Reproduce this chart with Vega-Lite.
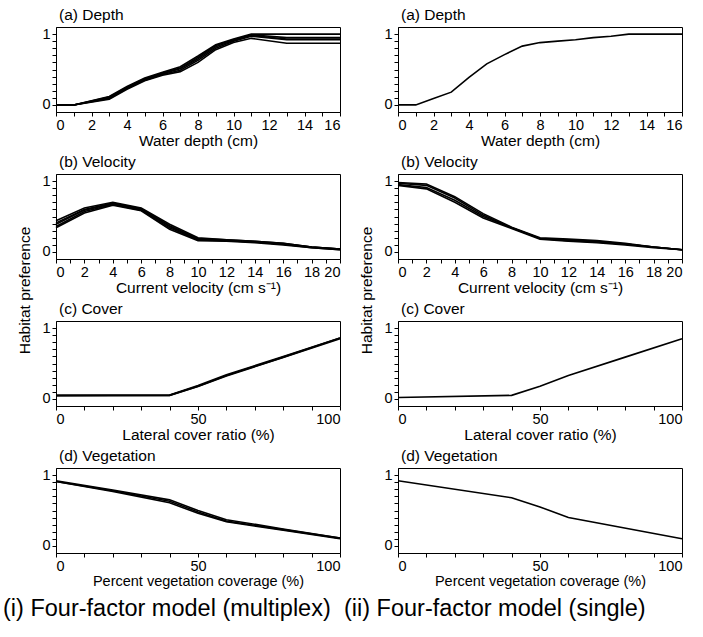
{
"$schema": "https://vega.github.io/schema/vega-lite/v6.json",
"padding": {"left": 3, "top": 7, "right": 5, "bottom": 5},
"background": "white",
"config": {
 "font": "Liberation Sans",
 "view": {"stroke": "black", "strokeWidth": 1},
 "axis": {"grid": false, "domainColor": "black", "tickColor": "black", "labelColor": "black", "titleColor": "black", "labelFont": "Liberation Sans", "titleFont": "Liberation Sans", "labelFontSize": 14.5, "titleFontSize": 15.5, "titleFontWeight": "normal", "tickSize": 4, "labelPadding": 2, "titlePadding": 2, "domainWidth": 1, "tickWidth": 1},
 "title": {"font": "Liberation Sans", "fontWeight": "normal", "fontSize": 15.5, "anchor": "start", "frame": "group", "color": "black", "offset": 3, "dx": 3},
 "line": {"color": "black", "strokeWidth": 1.6}
},
"datasets": {
 "depth_multi": [
  {"run":1,"x":0,"y":0},{"run":1,"x":1,"y":0},{"run":1,"x":3,"y":0.12},{"run":1,"x":4,"y":0.26},{"run":1,"x":5,"y":0.38},{"run":1,"x":6,"y":0.46},{"run":1,"x":7,"y":0.54},{"run":1,"x":8,"y":0.69},{"run":1,"x":9,"y":0.85},{"run":1,"x":10,"y":0.93},{"run":1,"x":11,"y":1.0},{"run":1,"x":13,"y":1.0},{"run":1,"x":16,"y":1.0},
  {"run":2,"x":0,"y":0},{"run":2,"x":1,"y":0},{"run":2,"x":3,"y":0.11},{"run":2,"x":4,"y":0.25},{"run":2,"x":5,"y":0.37},{"run":2,"x":6,"y":0.45},{"run":2,"x":7,"y":0.52},{"run":2,"x":8,"y":0.67},{"run":2,"x":9,"y":0.84},{"run":2,"x":10,"y":0.92},{"run":2,"x":11,"y":0.99},{"run":2,"x":13,"y":0.95},{"run":2,"x":16,"y":0.95},
  {"run":3,"x":0,"y":0},{"run":3,"x":1,"y":0},{"run":3,"x":3,"y":0.10},{"run":3,"x":4,"y":0.24},{"run":3,"x":5,"y":0.36},{"run":3,"x":6,"y":0.44},{"run":3,"x":7,"y":0.51},{"run":3,"x":8,"y":0.65},{"run":3,"x":9,"y":0.82},{"run":3,"x":10,"y":0.91},{"run":3,"x":11,"y":0.98},{"run":3,"x":13,"y":0.93},{"run":3,"x":16,"y":0.93},
  {"run":4,"x":0,"y":0},{"run":4,"x":1,"y":0},{"run":4,"x":3,"y":0.09},{"run":4,"x":4,"y":0.23},{"run":4,"x":5,"y":0.35},{"run":4,"x":6,"y":0.43},{"run":4,"x":7,"y":0.49},{"run":4,"x":8,"y":0.63},{"run":4,"x":9,"y":0.80},{"run":4,"x":10,"y":0.90},{"run":4,"x":11,"y":0.97},{"run":4,"x":13,"y":0.92},{"run":4,"x":16,"y":0.92},
  {"run":5,"x":0,"y":0},{"run":5,"x":1,"y":0},{"run":5,"x":3,"y":0.08},{"run":5,"x":4,"y":0.22},{"run":5,"x":5,"y":0.34},{"run":5,"x":6,"y":0.42},{"run":5,"x":7,"y":0.47},{"run":5,"x":8,"y":0.60},{"run":5,"x":9,"y":0.78},{"run":5,"x":10,"y":0.88},{"run":5,"x":11,"y":0.94},{"run":5,"x":13,"y":0.87},{"run":5,"x":16,"y":0.87}
 ],
 "depth_single": [
  {"run":1,"x":0,"y":0},{"run":1,"x":1,"y":0},{"run":1,"x":2,"y":0.09},{"run":1,"x":3,"y":0.18},{"run":1,"x":4,"y":0.39},{"run":1,"x":5,"y":0.58},{"run":1,"x":6,"y":0.71},{"run":1,"x":7,"y":0.83},{"run":1,"x":8,"y":0.88},{"run":1,"x":9,"y":0.90},{"run":1,"x":10,"y":0.92},{"run":1,"x":11,"y":0.95},{"run":1,"x":12,"y":0.97},{"run":1,"x":13,"y":1.0},{"run":1,"x":16,"y":1.0}
 ],
 "vel_multi": [
  {"run":1,"x":0,"y":0.44},{"run":1,"x":2,"y":0.62},{"run":1,"x":4,"y":0.70},{"run":1,"x":6,"y":0.62},{"run":1,"x":8,"y":0.39},{"run":1,"x":10,"y":0.20},{"run":1,"x":12,"y":0.17},{"run":1,"x":14,"y":0.15},{"run":1,"x":16,"y":0.12},{"run":1,"x":18,"y":0.07},{"run":1,"x":20,"y":0.04},
  {"run":2,"x":0,"y":0.41},{"run":2,"x":2,"y":0.60},{"run":2,"x":4,"y":0.69},{"run":2,"x":6,"y":0.61},{"run":2,"x":8,"y":0.37},{"run":2,"x":10,"y":0.19},{"run":2,"x":12,"y":0.17},{"run":2,"x":14,"y":0.15},{"run":2,"x":16,"y":0.12},{"run":2,"x":18,"y":0.07},{"run":2,"x":20,"y":0.04},
  {"run":3,"x":0,"y":0.39},{"run":3,"x":2,"y":0.59},{"run":3,"x":4,"y":0.68},{"run":3,"x":6,"y":0.60},{"run":3,"x":8,"y":0.36},{"run":3,"x":10,"y":0.18},{"run":3,"x":12,"y":0.16},{"run":3,"x":14,"y":0.14},{"run":3,"x":16,"y":0.11},{"run":3,"x":18,"y":0.07},{"run":3,"x":20,"y":0.04},
  {"run":4,"x":0,"y":0.36},{"run":4,"x":2,"y":0.57},{"run":4,"x":4,"y":0.67},{"run":4,"x":6,"y":0.59},{"run":4,"x":8,"y":0.34},{"run":4,"x":10,"y":0.17},{"run":4,"x":12,"y":0.16},{"run":4,"x":14,"y":0.14},{"run":4,"x":16,"y":0.11},{"run":4,"x":18,"y":0.06},{"run":4,"x":20,"y":0.03},
  {"run":5,"x":0,"y":0.34},{"run":5,"x":2,"y":0.55},{"run":5,"x":4,"y":0.66},{"run":5,"x":6,"y":0.58},{"run":5,"x":8,"y":0.32},{"run":5,"x":10,"y":0.16},{"run":5,"x":12,"y":0.15},{"run":5,"x":14,"y":0.13},{"run":5,"x":16,"y":0.10},{"run":5,"x":18,"y":0.06},{"run":5,"x":20,"y":0.03}
 ],
 "vel_single": [
  {"run":1,"x":0,"y":0.98},{"run":1,"x":2,"y":0.96},{"run":1,"x":4,"y":0.78},{"run":1,"x":6,"y":0.54},{"run":1,"x":8,"y":0.35},{"run":1,"x":10,"y":0.20},{"run":1,"x":12,"y":0.18},{"run":1,"x":14,"y":0.16},{"run":1,"x":16,"y":0.12},{"run":1,"x":18,"y":0.07},{"run":1,"x":20,"y":0.03},
  {"run":2,"x":0,"y":0.97},{"run":2,"x":2,"y":0.94},{"run":2,"x":4,"y":0.76},{"run":2,"x":6,"y":0.52},{"run":2,"x":8,"y":0.34},{"run":2,"x":10,"y":0.19},{"run":2,"x":12,"y":0.17},{"run":2,"x":14,"y":0.15},{"run":2,"x":16,"y":0.11},{"run":2,"x":18,"y":0.07},{"run":2,"x":20,"y":0.03},
  {"run":3,"x":0,"y":0.95},{"run":3,"x":2,"y":0.91},{"run":3,"x":4,"y":0.73},{"run":3,"x":6,"y":0.50},{"run":3,"x":8,"y":0.34},{"run":3,"x":10,"y":0.19},{"run":3,"x":12,"y":0.16},{"run":3,"x":14,"y":0.14},{"run":3,"x":16,"y":0.11},{"run":3,"x":18,"y":0.07},{"run":3,"x":20,"y":0.03},
  {"run":4,"x":0,"y":0.94},{"run":4,"x":2,"y":0.89},{"run":4,"x":4,"y":0.70},{"run":4,"x":6,"y":0.48},{"run":4,"x":8,"y":0.33},{"run":4,"x":10,"y":0.18},{"run":4,"x":12,"y":0.15},{"run":4,"x":14,"y":0.13},{"run":4,"x":16,"y":0.10},{"run":4,"x":18,"y":0.06},{"run":4,"x":20,"y":0.03}
 ],
 "cover_multi": [
  {"run":1,"x":0,"y":0.05},{"run":1,"x":40,"y":0.05},{"run":1,"x":50,"y":0.18},{"run":1,"x":60,"y":0.33},{"run":1,"x":80,"y":0.59},{"run":1,"x":100,"y":0.86},
  {"run":2,"x":0,"y":0.05},{"run":2,"x":40,"y":0.055},{"run":2,"x":50,"y":0.19},{"run":2,"x":60,"y":0.34},{"run":2,"x":80,"y":0.60},{"run":2,"x":100,"y":0.86},
  {"run":3,"x":0,"y":0.045},{"run":3,"x":40,"y":0.05},{"run":3,"x":50,"y":0.175},{"run":3,"x":60,"y":0.325},{"run":3,"x":80,"y":0.585},{"run":3,"x":100,"y":0.85}
 ],
 "cover_single": [
  {"run":1,"x":0,"y":0.02},{"run":1,"x":40,"y":0.05},{"run":1,"x":50,"y":0.18},{"run":1,"x":60,"y":0.33},{"run":1,"x":80,"y":0.59},{"run":1,"x":100,"y":0.85}
 ],
 "veg_multi": [
  {"run":1,"x":0,"y":0.92},{"run":1,"x":20,"y":0.79},{"run":1,"x":40,"y":0.65},{"run":1,"x":50,"y":0.50},{"run":1,"x":60,"y":0.37},{"run":1,"x":80,"y":0.24},{"run":1,"x":100,"y":0.11},
  {"run":2,"x":0,"y":0.91},{"run":2,"x":20,"y":0.78},{"run":2,"x":40,"y":0.63},{"run":2,"x":50,"y":0.48},{"run":2,"x":60,"y":0.35},{"run":2,"x":80,"y":0.23},{"run":2,"x":100,"y":0.11},
  {"run":3,"x":0,"y":0.91},{"run":3,"x":20,"y":0.77},{"run":3,"x":40,"y":0.61},{"run":3,"x":50,"y":0.46},{"run":3,"x":60,"y":0.34},{"run":3,"x":80,"y":0.22},{"run":3,"x":100,"y":0.10}
 ],
 "veg_single": [
  {"run":1,"x":0,"y":0.92},{"run":1,"x":40,"y":0.68},{"run":1,"x":50,"y":0.55},{"run":1,"x":60,"y":0.40},{"run":1,"x":100,"y":0.10}
 ]
},
"hconcat": [
 {
  "title": {"text": "(i) Four-factor model (multiplex)", "orient": "bottom", "anchor": "start", "frame": "group", "dx": -53, "fontSize": 23.5, "offset": 8},
  "spacing": 62, "bounds": "flush",
  "vconcat": [
   {"width": 284, "height": 85, "title": "(a) Depth", "data": {"name": "depth_multi"}, "mark": "line",
    "encoding": {
     "x": {"field": "x", "type": "quantitative", "scale": {"domain": [0, 16], "nice": false}, "axis": {"title": "Water depth (cm)", "values": [0,1,2,3,4,5,6,7,8,9,10,11,12,13,14,15,16], "labelExpr": "datum.value % 2 == 0 ? datum.label : ''"}},
     "y": {"field": "y", "type": "quantitative", "scale": {"domain": [-0.1, 1.1], "nice": false}, "axis": {"title": null, "values": [0,0.1,0.2,0.3,0.4,0.5,0.6,0.7,0.8,0.9,1], "labelExpr": "datum.value == 0 ? '0' : datum.value == 1 ? '1' : ''"}},
     "detail": {"field": "run"}}},
   {"width": 284, "height": 85, "title": "(b) Velocity", "data": {"name": "vel_multi"}, "mark": "line",
    "encoding": {
     "x": {"field": "x", "type": "quantitative", "scale": {"domain": [0, 20], "nice": false}, "axis": {"title": "Current velocity (cm s⁻¹)", "values": [0,1,2,3,4,5,6,7,8,9,10,11,12,13,14,15,16,17,18,19,20], "labelExpr": "datum.value % 2 == 0 ? datum.label : ''"}},
     "y": {"field": "y", "type": "quantitative", "scale": {"domain": [-0.1, 1.1], "nice": false}, "axis": {"title": "Habitat preference", "titleY": 116, "titleX": -24, "values": [0,0.1,0.2,0.3,0.4,0.5,0.6,0.7,0.8,0.9,1], "labelExpr": "datum.value == 0 ? '0' : datum.value == 1 ? '1' : ''"}},
     "detail": {"field": "run"}}},
   {"width": 284, "height": 85, "title": "(c) Cover", "data": {"name": "cover_multi"}, "mark": "line",
    "encoding": {
     "x": {"field": "x", "type": "quantitative", "scale": {"domain": [0, 100], "nice": false}, "axis": {"title": "Lateral cover ratio (%)", "values": [0,10,20,30,40,50,60,70,80,90,100], "labelExpr": "datum.value % 50 == 0 ? datum.label : ''"}},
     "y": {"field": "y", "type": "quantitative", "scale": {"domain": [-0.1, 1.1], "nice": false}, "axis": {"title": null, "values": [0,0.1,0.2,0.3,0.4,0.5,0.6,0.7,0.8,0.9,1], "labelExpr": "datum.value == 0 ? '0' : datum.value == 1 ? '1' : ''"}},
     "detail": {"field": "run"}}},
   {"width": 284, "height": 85, "title": "(d) Vegetation", "data": {"name": "veg_multi"}, "mark": "line",
    "encoding": {
     "x": {"field": "x", "type": "quantitative", "scale": {"domain": [0, 100], "nice": false}, "axis": {"title": "Percent vegetation coverage (%)", "titleFontSize": 14.5, "titlePadding": 2, "values": [0,10,20,30,40,50,60,70,80,90,100], "labelExpr": "datum.value % 50 == 0 ? datum.label : ''"}},
     "y": {"field": "y", "type": "quantitative", "scale": {"domain": [-0.1, 1.1], "nice": false}, "axis": {"title": null, "values": [0,0.1,0.2,0.3,0.4,0.5,0.6,0.7,0.8,0.9,1], "labelExpr": "datum.value == 0 ? '0' : datum.value == 1 ? '1' : ''"}},
     "detail": {"field": "run"}}}
  ]
 },
 {
  "title": {"text": "(ii) Four-factor model (single)", "orient": "bottom", "anchor": "start", "frame": "group", "dx": -54, "fontSize": 23.5, "offset": 8},
  "spacing": 62, "bounds": "flush",
  "vconcat": [
   {"width": 284, "height": 85, "title": "(a) Depth", "data": {"name": "depth_single"}, "mark": "line",
    "encoding": {
     "x": {"field": "x", "type": "quantitative", "scale": {"domain": [0, 16], "nice": false}, "axis": {"title": "Water depth (cm)", "values": [0,1,2,3,4,5,6,7,8,9,10,11,12,13,14,15,16], "labelExpr": "datum.value % 2 == 0 ? datum.label : ''"}},
     "y": {"field": "y", "type": "quantitative", "scale": {"domain": [-0.1, 1.1], "nice": false}, "axis": {"title": null, "values": [0,0.1,0.2,0.3,0.4,0.5,0.6,0.7,0.8,0.9,1], "labelExpr": "datum.value == 0 ? '0' : datum.value == 1 ? '1' : ''"}},
     "detail": {"field": "run"}}},
   {"width": 284, "height": 85, "title": "(b) Velocity", "data": {"name": "vel_single"}, "mark": "line",
    "encoding": {
     "x": {"field": "x", "type": "quantitative", "scale": {"domain": [0, 20], "nice": false}, "axis": {"title": "Current velocity (cm s⁻¹)", "values": [0,1,2,3,4,5,6,7,8,9,10,11,12,13,14,15,16,17,18,19,20], "labelExpr": "datum.value % 2 == 0 ? datum.label : ''"}},
     "y": {"field": "y", "type": "quantitative", "scale": {"domain": [-0.1, 1.1], "nice": false}, "axis": {"title": "Habitat preference", "titleY": 116, "titleX": -24, "values": [0,0.1,0.2,0.3,0.4,0.5,0.6,0.7,0.8,0.9,1], "labelExpr": "datum.value == 0 ? '0' : datum.value == 1 ? '1' : ''"}},
     "detail": {"field": "run"}}},
   {"width": 284, "height": 85, "title": "(c) Cover", "data": {"name": "cover_single"}, "mark": "line",
    "encoding": {
     "x": {"field": "x", "type": "quantitative", "scale": {"domain": [0, 100], "nice": false}, "axis": {"title": "Lateral cover ratio (%)", "values": [0,10,20,30,40,50,60,70,80,90,100], "labelExpr": "datum.value % 50 == 0 ? datum.label : ''"}},
     "y": {"field": "y", "type": "quantitative", "scale": {"domain": [-0.1, 1.1], "nice": false}, "axis": {"title": null, "values": [0,0.1,0.2,0.3,0.4,0.5,0.6,0.7,0.8,0.9,1], "labelExpr": "datum.value == 0 ? '0' : datum.value == 1 ? '1' : ''"}},
     "detail": {"field": "run"}}},
   {"width": 284, "height": 85, "title": "(d) Vegetation", "data": {"name": "veg_single"}, "mark": "line",
    "encoding": {
     "x": {"field": "x", "type": "quantitative", "scale": {"domain": [0, 100], "nice": false}, "axis": {"title": "Percent vegetation coverage (%)", "titleFontSize": 14.5, "titlePadding": 2, "values": [0,10,20,30,40,50,60,70,80,90,100], "labelExpr": "datum.value % 50 == 0 ? datum.label : ''"}},
     "y": {"field": "y", "type": "quantitative", "scale": {"domain": [-0.1, 1.1], "nice": false}, "axis": {"title": null, "values": [0,0.1,0.2,0.3,0.4,0.5,0.6,0.7,0.8,0.9,1], "labelExpr": "datum.value == 0 ? '0' : datum.value == 1 ? '1' : ''"}},
     "detail": {"field": "run"}}}
  ]
 }
],
"spacing": 0
}
